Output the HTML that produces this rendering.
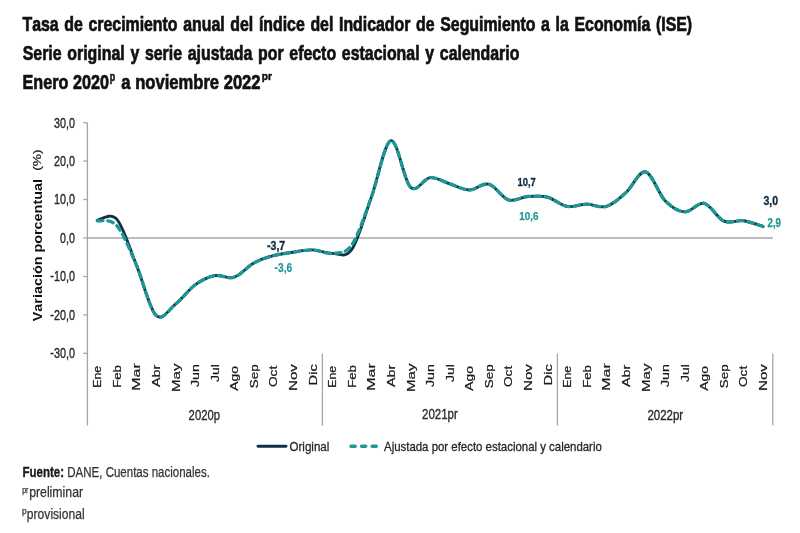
<!DOCTYPE html>
<html><head><meta charset="utf-8"><style>
html,body{margin:0;padding:0;background:#fff;}
body{width:800px;height:533px;overflow:hidden;}
svg{display:block;filter:blur(0.4px);}
text{font-family:"Liberation Sans", sans-serif;font-kerning:none;}
</style></head><body>
<svg width="800" height="533" viewBox="0 0 800 533">
<rect width="800" height="533" fill="#ffffff"/>
<text x="22.47" y="31.25" font-size="20.20" font-weight="bold" fill="#111111" stroke="#111111" stroke-width="0.7" word-spacing="1.62" textLength="669.67" lengthAdjust="spacingAndGlyphs">Tasa de crecimiento anual del índice del Indicador de Seguimiento a la Economía (ISE)</text>
<text x="22.69" y="59.55" font-size="20.34" font-weight="bold" fill="#111111" stroke="#111111" stroke-width="0.7" word-spacing="1.63" textLength="496.68" lengthAdjust="spacingAndGlyphs">Serie original y serie ajustada por efecto estacional y calendario</text>
<text x="22.57" y="88.75" font-size="20.93" font-weight="bold" fill="#111111" stroke="#111111" stroke-width="0.7" textLength="86.50" lengthAdjust="spacingAndGlyphs">Enero 2020</text>
<text x="109.76" y="80.75" font-size="12.05" font-weight="bold" fill="#111111" stroke="#111111" stroke-width="0.5" textLength="5.45" lengthAdjust="spacingAndGlyphs">p</text>
<text x="121.36" y="88.75" font-size="20.63" font-weight="bold" fill="#111111" stroke="#111111" stroke-width="0.7" textLength="139.20" lengthAdjust="spacingAndGlyphs">a noviembre 2022</text>
<text x="261.78" y="79.95" font-size="11.68" font-weight="bold" fill="#111111" stroke="#111111" stroke-width="0.5" textLength="10.23" lengthAdjust="spacingAndGlyphs">pr</text>
<line x1="87.4" y1="122.65" x2="87.4" y2="425.4" stroke="#a6a6a6" stroke-width="1.3"/>
<line x1="83.3" y1="353.35" x2="87.4" y2="353.35" stroke="#a6a6a6" stroke-width="1.3"/>
<line x1="83.3" y1="314.90" x2="87.4" y2="314.90" stroke="#a6a6a6" stroke-width="1.3"/>
<line x1="83.3" y1="276.45" x2="87.4" y2="276.45" stroke="#a6a6a6" stroke-width="1.3"/>
<line x1="83.3" y1="238.00" x2="87.4" y2="238.00" stroke="#a6a6a6" stroke-width="1.3"/>
<line x1="83.3" y1="199.55" x2="87.4" y2="199.55" stroke="#a6a6a6" stroke-width="1.3"/>
<line x1="83.3" y1="161.10" x2="87.4" y2="161.10" stroke="#a6a6a6" stroke-width="1.3"/>
<line x1="83.3" y1="122.65" x2="87.4" y2="122.65" stroke="#a6a6a6" stroke-width="1.3"/>
<line x1="87.4" y1="238.00" x2="772.8" y2="238.00" stroke="#a6a6a6" stroke-width="1.4"/>
<line x1="322.39" y1="353.4" x2="322.39" y2="425.6" stroke="#a6a6a6" stroke-width="1.3"/>
<line x1="557.39" y1="353.4" x2="557.39" y2="425.6" stroke="#a6a6a6" stroke-width="1.3"/>
<line x1="772.80" y1="353.4" x2="772.80" y2="425.6" stroke="#a6a6a6" stroke-width="1.3"/>
<text x="50.34" y="358.25" font-size="15.19" font-weight="normal" fill="#2a2a2a" stroke="#2a2a2a" stroke-width="0.4" textLength="24.58" lengthAdjust="spacingAndGlyphs">-30,0</text>
<text x="50.34" y="319.80" font-size="15.19" font-weight="normal" fill="#2a2a2a" stroke="#2a2a2a" stroke-width="0.4" textLength="24.58" lengthAdjust="spacingAndGlyphs">-20,0</text>
<text x="50.34" y="281.35" font-size="15.19" font-weight="normal" fill="#2a2a2a" stroke="#2a2a2a" stroke-width="0.4" textLength="24.58" lengthAdjust="spacingAndGlyphs">-10,0</text>
<text x="60.09" y="242.90" font-size="15.19" font-weight="normal" fill="#2a2a2a" stroke="#2a2a2a" stroke-width="0.4" textLength="14.82" lengthAdjust="spacingAndGlyphs">0,0</text>
<text x="54.00" y="204.45" font-size="15.19" font-weight="normal" fill="#2a2a2a" stroke="#2a2a2a" stroke-width="0.4" textLength="20.92" lengthAdjust="spacingAndGlyphs">10,0</text>
<text x="53.99" y="166.00" font-size="15.19" font-weight="normal" fill="#2a2a2a" stroke="#2a2a2a" stroke-width="0.4" textLength="20.93" lengthAdjust="spacingAndGlyphs">20,0</text>
<text x="53.99" y="127.55" font-size="15.19" font-weight="normal" fill="#2a2a2a" stroke="#2a2a2a" stroke-width="0.4" textLength="20.93" lengthAdjust="spacingAndGlyphs">30,0</text>
<text transform="translate(41.90,321.20) rotate(-90) scale(1,0.8985)" x="-0.10" y="0" font-size="14.40" font-weight="bold" fill="#111111">Variación porcentual</text>
<text transform="translate(40.85,169.85) rotate(-90) scale(1,0.7860)" x="-0.85" y="0" font-size="13.70" font-weight="normal" fill="#222222" stroke="#222222" stroke-width="0.3">(%)</text>
<text transform="translate(101.24,386.70) rotate(-90) scale(1,0.8521)" x="-1.01" y="0" font-size="12.28" font-weight="normal" fill="#1a1a1a" stroke="#1a1a1a" stroke-width="0.3">Ene</text>
<text transform="translate(120.82,386.75) rotate(-90) scale(1,0.7931)" x="-1.08" y="0" font-size="13.19" font-weight="normal" fill="#1a1a1a" stroke="#1a1a1a" stroke-width="0.3">Feb</text>
<text transform="translate(140.41,389.45) rotate(-90) scale(1,0.6560)" x="-1.31" y="0" font-size="15.95" font-weight="normal" fill="#1a1a1a" stroke="#1a1a1a" stroke-width="0.3">Mar</text>
<text transform="translate(159.99,386.95) rotate(-90) scale(1,0.7281)" x="-0.03" y="0" font-size="14.37" font-weight="normal" fill="#1a1a1a" stroke="#1a1a1a" stroke-width="0.3">Abr</text>
<text transform="translate(179.57,390.75) rotate(-90) scale(1,0.6945)" x="-1.24" y="0" font-size="15.07" font-weight="normal" fill="#1a1a1a" stroke="#1a1a1a" stroke-width="0.3">May</text>
<text transform="translate(199.16,386.85) rotate(-90) scale(1,0.7387)" x="-0.22" y="0" font-size="14.17" font-weight="normal" fill="#1a1a1a" stroke="#1a1a1a" stroke-width="0.3">Jun</text>
<text transform="translate(218.74,381.85) rotate(-90) scale(1,0.7494)" x="-0.22" y="0" font-size="13.97" font-weight="normal" fill="#1a1a1a" stroke="#1a1a1a" stroke-width="0.3">Jul</text>
<text transform="translate(238.32,390.85) rotate(-90) scale(1,0.7504)" x="-0.03" y="0" font-size="13.95" font-weight="normal" fill="#1a1a1a" stroke="#1a1a1a" stroke-width="0.3">Ago</text>
<text transform="translate(257.90,387.65) rotate(-90) scale(1,0.7800)" x="-0.61" y="0" font-size="13.42" font-weight="normal" fill="#1a1a1a" stroke="#1a1a1a" stroke-width="0.3">Sep</text>
<text transform="translate(277.49,386.35) rotate(-90) scale(1,0.7662)" x="-0.65" y="0" font-size="13.66" font-weight="normal" fill="#1a1a1a" stroke="#1a1a1a" stroke-width="0.3">Oct</text>
<text transform="translate(297.07,389.75) rotate(-90) scale(1,0.6920)" x="-1.24" y="0" font-size="15.12" font-weight="normal" fill="#1a1a1a" stroke="#1a1a1a" stroke-width="0.3">Nov</text>
<text transform="translate(316.65,384.25) rotate(-90) scale(1,0.7133)" x="-1.20" y="0" font-size="14.67" font-weight="normal" fill="#1a1a1a" stroke="#1a1a1a" stroke-width="0.3">Dic</text>
<text transform="translate(336.24,386.70) rotate(-90) scale(1,0.8521)" x="-1.01" y="0" font-size="12.28" font-weight="normal" fill="#1a1a1a" stroke="#1a1a1a" stroke-width="0.3">Ene</text>
<text transform="translate(355.82,386.75) rotate(-90) scale(1,0.7931)" x="-1.08" y="0" font-size="13.19" font-weight="normal" fill="#1a1a1a" stroke="#1a1a1a" stroke-width="0.3">Feb</text>
<text transform="translate(375.40,389.45) rotate(-90) scale(1,0.6560)" x="-1.31" y="0" font-size="15.95" font-weight="normal" fill="#1a1a1a" stroke="#1a1a1a" stroke-width="0.3">Mar</text>
<text transform="translate(394.98,386.95) rotate(-90) scale(1,0.7281)" x="-0.03" y="0" font-size="14.37" font-weight="normal" fill="#1a1a1a" stroke="#1a1a1a" stroke-width="0.3">Abr</text>
<text transform="translate(414.57,390.75) rotate(-90) scale(1,0.6945)" x="-1.24" y="0" font-size="15.07" font-weight="normal" fill="#1a1a1a" stroke="#1a1a1a" stroke-width="0.3">May</text>
<text transform="translate(434.15,386.85) rotate(-90) scale(1,0.7387)" x="-0.22" y="0" font-size="14.17" font-weight="normal" fill="#1a1a1a" stroke="#1a1a1a" stroke-width="0.3">Jun</text>
<text transform="translate(453.73,381.85) rotate(-90) scale(1,0.7494)" x="-0.22" y="0" font-size="13.97" font-weight="normal" fill="#1a1a1a" stroke="#1a1a1a" stroke-width="0.3">Jul</text>
<text transform="translate(473.32,390.85) rotate(-90) scale(1,0.7504)" x="-0.03" y="0" font-size="13.95" font-weight="normal" fill="#1a1a1a" stroke="#1a1a1a" stroke-width="0.3">Ago</text>
<text transform="translate(492.90,387.65) rotate(-90) scale(1,0.7800)" x="-0.61" y="0" font-size="13.42" font-weight="normal" fill="#1a1a1a" stroke="#1a1a1a" stroke-width="0.3">Sep</text>
<text transform="translate(512.48,386.35) rotate(-90) scale(1,0.7662)" x="-0.65" y="0" font-size="13.66" font-weight="normal" fill="#1a1a1a" stroke="#1a1a1a" stroke-width="0.3">Oct</text>
<text transform="translate(532.06,389.75) rotate(-90) scale(1,0.6920)" x="-1.24" y="0" font-size="15.12" font-weight="normal" fill="#1a1a1a" stroke="#1a1a1a" stroke-width="0.3">Nov</text>
<text transform="translate(551.65,384.25) rotate(-90) scale(1,0.7133)" x="-1.20" y="0" font-size="14.67" font-weight="normal" fill="#1a1a1a" stroke="#1a1a1a" stroke-width="0.3">Dic</text>
<text transform="translate(571.23,386.70) rotate(-90) scale(1,0.8521)" x="-1.01" y="0" font-size="12.28" font-weight="normal" fill="#1a1a1a" stroke="#1a1a1a" stroke-width="0.3">Ene</text>
<text transform="translate(590.81,386.75) rotate(-90) scale(1,0.7931)" x="-1.08" y="0" font-size="13.19" font-weight="normal" fill="#1a1a1a" stroke="#1a1a1a" stroke-width="0.3">Feb</text>
<text transform="translate(610.40,389.45) rotate(-90) scale(1,0.6560)" x="-1.31" y="0" font-size="15.95" font-weight="normal" fill="#1a1a1a" stroke="#1a1a1a" stroke-width="0.3">Mar</text>
<text transform="translate(629.98,386.95) rotate(-90) scale(1,0.7281)" x="-0.03" y="0" font-size="14.37" font-weight="normal" fill="#1a1a1a" stroke="#1a1a1a" stroke-width="0.3">Abr</text>
<text transform="translate(649.56,390.75) rotate(-90) scale(1,0.6945)" x="-1.24" y="0" font-size="15.07" font-weight="normal" fill="#1a1a1a" stroke="#1a1a1a" stroke-width="0.3">May</text>
<text transform="translate(669.14,386.85) rotate(-90) scale(1,0.7387)" x="-0.22" y="0" font-size="14.17" font-weight="normal" fill="#1a1a1a" stroke="#1a1a1a" stroke-width="0.3">Jun</text>
<text transform="translate(688.73,381.85) rotate(-90) scale(1,0.7494)" x="-0.22" y="0" font-size="13.97" font-weight="normal" fill="#1a1a1a" stroke="#1a1a1a" stroke-width="0.3">Jul</text>
<text transform="translate(708.31,390.85) rotate(-90) scale(1,0.7504)" x="-0.03" y="0" font-size="13.95" font-weight="normal" fill="#1a1a1a" stroke="#1a1a1a" stroke-width="0.3">Ago</text>
<text transform="translate(727.89,387.65) rotate(-90) scale(1,0.7800)" x="-0.61" y="0" font-size="13.42" font-weight="normal" fill="#1a1a1a" stroke="#1a1a1a" stroke-width="0.3">Sep</text>
<text transform="translate(747.48,386.35) rotate(-90) scale(1,0.7662)" x="-0.65" y="0" font-size="13.66" font-weight="normal" fill="#1a1a1a" stroke="#1a1a1a" stroke-width="0.3">Oct</text>
<text transform="translate(767.06,389.75) rotate(-90) scale(1,0.6920)" x="-1.24" y="0" font-size="15.12" font-weight="normal" fill="#1a1a1a" stroke="#1a1a1a" stroke-width="0.3">Nov</text>
<text x="188.61" y="419.57" font-size="15.04" font-weight="normal" fill="#2a2a2a" stroke="#2a2a2a" stroke-width="0.35" textLength="31.50" lengthAdjust="spacingAndGlyphs">2020p</text>
<text x="422.10" y="419.22" font-size="13.83" font-weight="normal" fill="#2a2a2a" stroke="#2a2a2a" stroke-width="0.35" textLength="35.72" lengthAdjust="spacingAndGlyphs">2021pr</text>
<text x="647.40" y="419.52" font-size="14.26" font-weight="normal" fill="#2a2a2a" stroke="#2a2a2a" stroke-width="0.35" textLength="35.72" lengthAdjust="spacingAndGlyphs">2022pr</text>
<path d="M97.19,220.31 C100.46,220.12 110.25,211.73 116.77,219.16 C123.30,226.59 129.83,248.89 136.36,264.92 C142.88,280.94 149.41,308.75 155.94,315.28 C162.47,321.82 169.00,309.20 175.52,304.13 C182.05,299.07 188.58,289.65 195.11,284.91 C201.63,280.17 208.16,276.96 214.69,275.68 C221.22,274.40 227.74,279.33 234.27,277.22 C240.80,275.10 247.33,266.58 253.85,262.99 C260.38,259.40 266.91,257.48 273.44,255.69 C279.96,253.89 286.49,253.19 293.02,252.23 C299.55,251.27 306.08,249.73 312.60,249.92 C319.13,250.11 325.66,253.44 332.19,253.38 C338.71,253.32 345.24,258.89 351.77,249.53 C358.30,240.18 364.82,215.38 371.35,197.24 C377.88,179.11 384.41,142.39 390.93,140.72 C397.46,139.06 403.99,181.09 410.52,187.25 C417.04,193.40 423.57,178.21 430.10,177.63 C436.63,177.06 443.16,181.73 449.68,183.79 C456.21,185.84 462.74,189.87 469.27,189.94 C475.79,190.00 482.32,182.50 488.85,184.17 C495.38,185.84 501.90,197.88 508.43,199.93 C514.96,201.99 521.49,196.92 528.01,196.47 C534.54,196.03 541.07,195.58 547.60,197.24 C554.12,198.91 560.65,205.32 567.18,206.47 C573.71,207.62 580.24,204.16 586.76,204.16 C593.29,204.16 599.82,208.39 606.35,206.47 C612.87,204.55 619.40,198.40 625.93,192.63 C632.46,186.86 638.98,170.52 645.51,171.87 C652.04,173.21 658.57,194.04 665.09,200.70 C671.62,207.37 678.15,211.41 684.68,211.85 C691.20,212.30 697.73,201.86 704.26,203.39 C710.79,204.93 717.32,218.20 723.84,221.08 C730.37,223.97 736.90,219.80 743.43,220.70 C749.95,221.59 759.74,225.50 763.01,226.47" fill="none" stroke="#0f3149" stroke-width="2.9" stroke-linejoin="round" stroke-linecap="round"/>
<path d="M97.19,220.70 C100.46,221.53 110.25,218.33 116.77,225.70 C123.30,233.07 129.83,249.98 136.36,264.92 C142.88,279.85 149.41,308.75 155.94,315.28 C162.47,321.82 169.00,309.20 175.52,304.13 C182.05,299.07 188.58,289.65 195.11,284.91 C201.63,280.17 208.16,276.96 214.69,275.68 C221.22,274.40 227.74,279.33 234.27,277.22 C240.80,275.10 247.33,266.58 253.85,262.99 C260.38,259.40 266.91,257.48 273.44,255.69 C279.96,253.89 286.49,253.19 293.02,252.23 C299.55,251.27 306.08,249.73 312.60,249.92 C319.13,250.11 325.66,254.21 332.19,253.38 C338.71,252.55 345.24,254.28 351.77,244.92 C358.30,235.56 364.82,214.61 371.35,197.24 C377.88,179.88 384.41,142.39 390.93,140.72 C397.46,139.06 403.99,181.09 410.52,187.25 C417.04,193.40 423.57,178.21 430.10,177.63 C436.63,177.06 443.16,181.73 449.68,183.79 C456.21,185.84 462.74,189.87 469.27,189.94 C475.79,190.00 482.32,182.50 488.85,184.17 C495.38,185.84 501.90,197.88 508.43,199.93 C514.96,201.99 521.49,196.92 528.01,196.47 C534.54,196.03 541.07,195.58 547.60,197.24 C554.12,198.91 560.65,205.32 567.18,206.47 C573.71,207.62 580.24,204.16 586.76,204.16 C593.29,204.16 599.82,208.39 606.35,206.47 C612.87,204.55 619.40,198.40 625.93,192.63 C632.46,186.86 638.98,170.52 645.51,171.87 C652.04,173.21 658.57,194.04 665.09,200.70 C671.62,207.37 678.15,211.41 684.68,211.85 C691.20,212.30 697.73,201.86 704.26,203.39 C710.79,204.93 717.32,218.20 723.84,221.08 C730.37,223.97 736.90,219.80 743.43,220.70 C749.95,221.59 759.74,225.50 763.01,226.47" fill="none" stroke="#1c9994" stroke-width="3.3" stroke-dasharray="5.6 4.75" stroke-dashoffset="-0.33" stroke-linecap="round" stroke-linejoin="round"/>
<text x="267.06" y="249.62" font-size="11.96" font-weight="bold" fill="#0f2a3f" stroke="#0f2a3f" stroke-width="0.35" textLength="18.12" lengthAdjust="spacingAndGlyphs">-3,7</text>
<text x="274.60" y="272.30" font-size="12.18" font-weight="bold" fill="#1c9994" stroke="#1c9994" stroke-width="0.2" textLength="17.57" lengthAdjust="spacingAndGlyphs">-3,6</text>
<text x="517.58" y="186.42" font-size="11.82" font-weight="bold" fill="#0f2a3f" stroke="#0f2a3f" stroke-width="0.35" textLength="18.25" lengthAdjust="spacingAndGlyphs">10,7</text>
<text x="519.30" y="219.68" font-size="11.53" font-weight="bold" fill="#1c9994" stroke="#1c9994" stroke-width="0.25" textLength="19.23" lengthAdjust="spacingAndGlyphs">10,6</text>
<text x="763.43" y="205.42" font-size="12.18" font-weight="bold" fill="#0f2a3f" stroke="#0f2a3f" stroke-width="0.35" textLength="14.62" lengthAdjust="spacingAndGlyphs">3,0</text>
<text x="767.49" y="227.47" font-size="12.39" font-weight="bold" fill="#1c9994" stroke="#1c9994" stroke-width="0.25" textLength="13.55" lengthAdjust="spacingAndGlyphs">2,9</text>
<line x1="258" y1="446.25" x2="286" y2="446.25" stroke="#0f3149" stroke-width="2.8" stroke-linecap="round"/>
<line x1="351.0" y1="446.2" x2="376.3" y2="446.2" stroke="#1c9994" stroke-width="3.4" stroke-linecap="round" stroke-dasharray="4.2 6.35"/>
<text x="289.50" y="451.15" font-size="13.25" font-weight="normal" fill="#262626" stroke="#262626" stroke-width="0.3" textLength="39.87" lengthAdjust="spacingAndGlyphs">Original</text>
<text x="384.03" y="451.25" font-size="13.59" font-weight="normal" fill="#262626" stroke="#262626" stroke-width="0.3" textLength="217.80" lengthAdjust="spacingAndGlyphs">Ajustada por efecto estacional y calendario</text>
<text x="22.51" y="476.72" font-size="14.03" font-weight="bold" fill="#1a1a1a" stroke="#1a1a1a" stroke-width="0.35" textLength="41.53" lengthAdjust="spacingAndGlyphs">Fuente:</text>
<text x="67.28" y="476.88" font-size="14.32" font-weight="normal" fill="#333333" stroke="#333333" stroke-width="0.25" textLength="142.64" lengthAdjust="spacingAndGlyphs">DANE, Cuentas nacionales.</text>
<text x="22.17" y="492.68" font-size="8.46" font-weight="normal" fill="#333333" stroke="#333333" stroke-width="0.25" textLength="6.33" lengthAdjust="spacingAndGlyphs">pr</text>
<text x="29.13" y="497.38" font-size="14.15" font-weight="normal" fill="#333333" stroke="#333333" stroke-width="0.25" textLength="53.95" lengthAdjust="spacingAndGlyphs">preliminar</text>
<text x="22.09" y="514.17" font-size="8.46" font-weight="normal" fill="#333333" stroke="#333333" stroke-width="0.25" textLength="4.64" lengthAdjust="spacingAndGlyphs">p</text>
<text x="26.85" y="519.38" font-size="14.15" font-weight="normal" fill="#333333" stroke="#333333" stroke-width="0.25" textLength="57.84" lengthAdjust="spacingAndGlyphs">provisional</text>
</svg>
</body></html>
